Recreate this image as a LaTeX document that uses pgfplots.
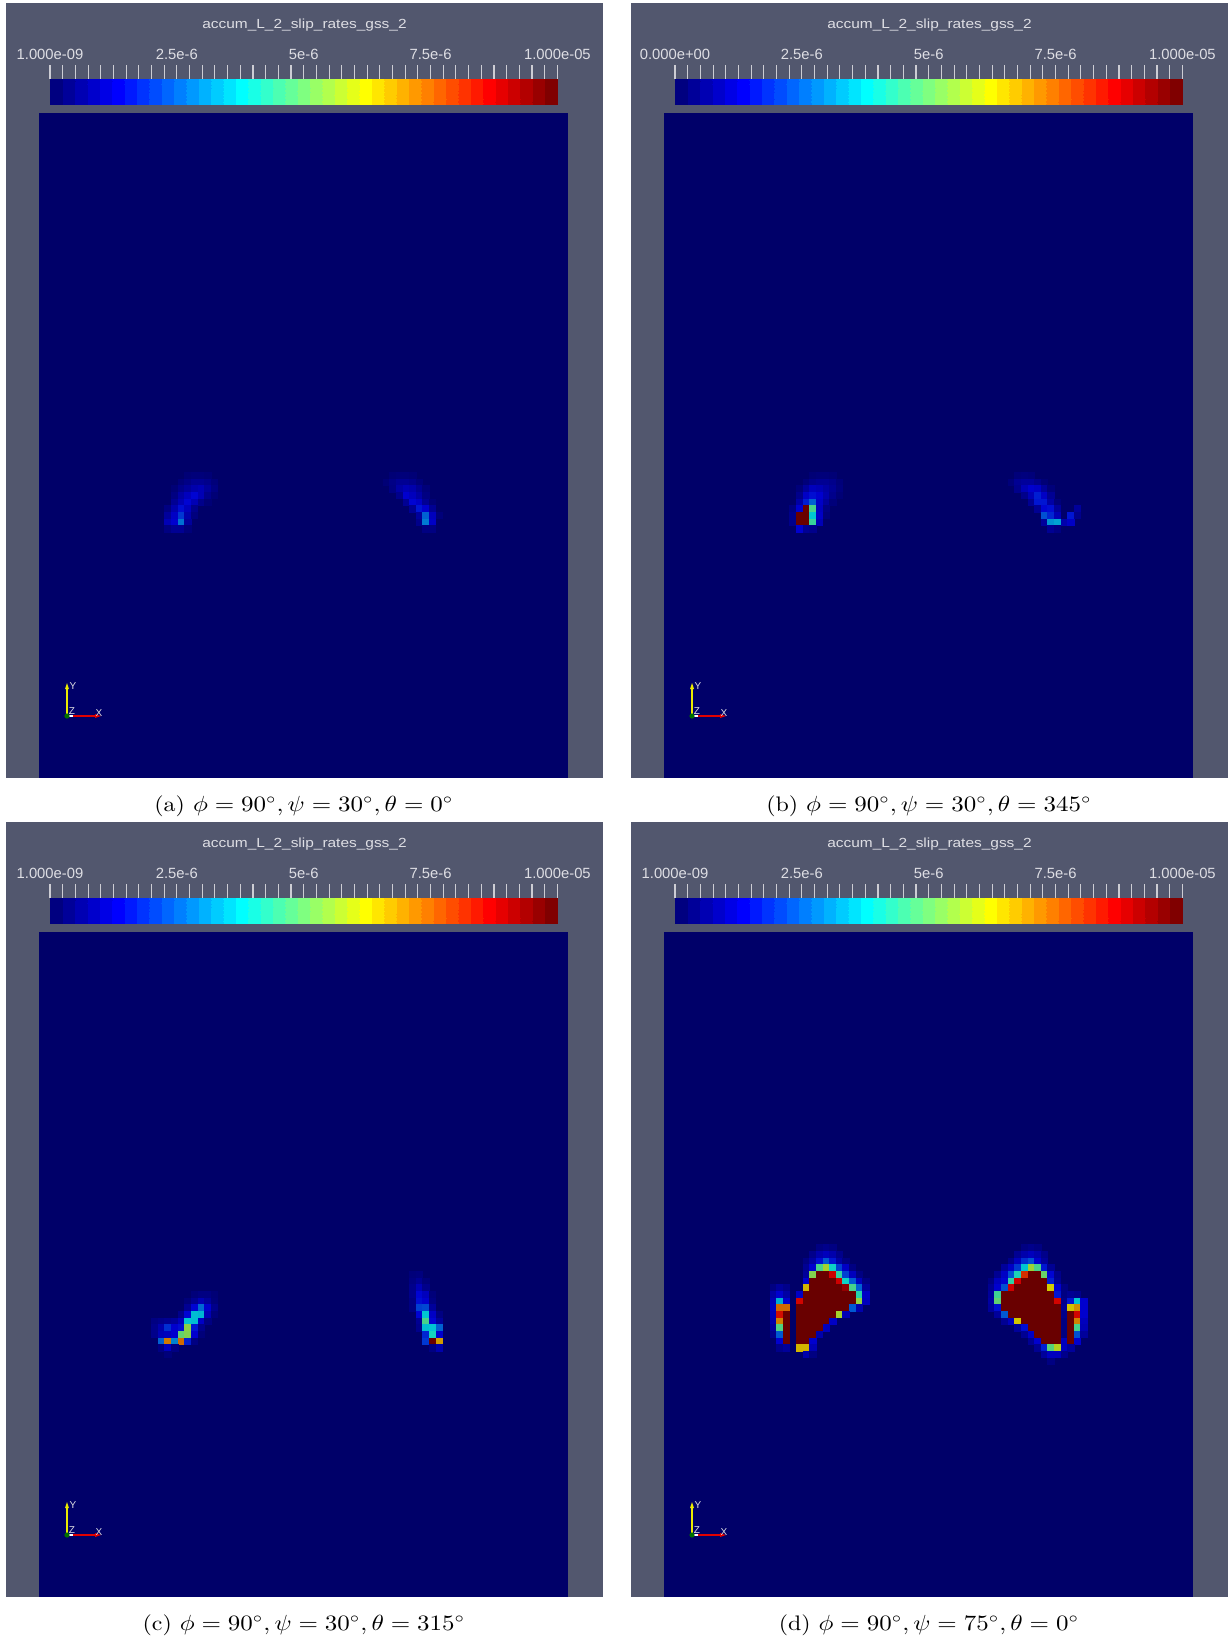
\documentclass[border=0pt]{standalone}
\usepackage{graphicx}
\usepackage{pgfplots}
\pgfplotsset{compat=1.18}
\usepackage{pgfplotstable}
\usepackage{fontspec}
\newfontfamily\pvfont{Liberation Sans}
\newfontfamily\pvtitlefont[FakeStretch=1.17]{Liberation Sans}

\definecolor{pvgray}{RGB}{82,87,110}
\definecolor{pvfield}{RGB}{0,0,105}
\definecolor{pvtext}{RGB}{222,222,228}
\definecolor{pvtick}{RGB}{205,205,212}
\definecolor{pvyellow}{RGB}{235,235,0}
\definecolor{pvred}{RGB}{225,0,0}
\definecolor{pvgreen}{RGB}{0,110,0}

\pgfplotsset{
  colormap={fieldjet}{rgb255(0cm)=(0,0,105) rgb255(1cm)=(0,0,210) rgb255(3cm)=(0,210,210) rgb255(5cm)=(210,210,0) rgb255(7cm)=(210,0,0) rgb255(8cm)=(105,0,0)},
  colormap={pvjet}{rgb255(0cm)=(0,0,128) rgb255(1cm)=(0,0,255) rgb255(3cm)=(0,255,255) rgb255(5cm)=(255,255,0) rgb255(7cm)=(255,0,0) rgb255(8cm)=(128,0,0)},
  colormap={barjet}{samples of colormap=(41 of pvjet)},
}

% accumulated slip rate per cell: column i, row j (from top), value in 1e-6
\pgfplotstableread[row sep=\\]{i j c\\
22 54 0.15\\ 23 54 0.2\\ 24 54 0.2\\ 25 54 0.15\\
21 55 0.2\\ 22 55 0.35\\ 23 55 0.5\\ 24 55 0.5\\ 25 55 0.4\\ 26 55 0.2\\
20 56 0.15\\ 21 56 0.4\\ 22 56 0.6\\ 23 56 0.8\\ 24 56 0.9\\ 25 56 0.6\\ 26 56 0.3\\
20 57 0.3\\ 21 57 0.7\\ 22 57 1.0\\ 23 57 1.3\\ 24 57 0.9\\ 25 57 0.4\\ 26 57 0.15\\
20 58 0.5\\ 21 58 0.9\\ 22 58 1.3\\ 23 58 0.9\\ 24 58 0.4\\ 25 58 0.15\\
19 59 0.3\\ 20 59 0.8\\ 21 59 1.4\\ 22 59 1.0\\ 23 59 0.4\\
19 60 0.6\\ 20 60 1.1\\ 21 60 1.9\\ 22 60 0.8\\ 23 60 0.25\\
19 61 0.9\\ 20 61 1.2\\ 21 61 2.6\\ 22 61 0.6\\
19 62 0.3\\ 20 62 0.5\\ 21 62 0.5\\ 22 62 0.2\\
53 54 0.15\\ 54 54 0.2\\ 55 54 0.2\\ 56 54 0.15\\
52 55 0.15\\ 53 55 0.35\\ 54 55 0.5\\ 55 55 0.5\\ 56 55 0.4\\ 57 55 0.2\\
53 56 0.3\\ 54 56 0.7\\ 55 56 0.9\\ 56 56 0.8\\ 57 56 0.5\\ 58 56 0.2\\
54 57 0.4\\ 55 57 1.2\\ 56 57 1.0\\ 57 57 0.7\\ 58 57 0.3\\
55 58 0.5\\ 56 58 1.3\\ 57 58 1.1\\ 58 58 0.5\\ 59 58 0.15\\
56 59 0.5\\ 57 59 1.5\\ 58 59 1.2\\ 59 59 0.5\\
57 60 0.6\\ 58 60 2.4\\ 59 60 1.0\\ 60 60 0.2\\
57 61 0.4\\ 58 61 2.7\\ 59 61 1.1\\
58 62 0.3\\ 59 62 0.3\\
}\tabA

\pgfplotstableread[row sep=\\]{i j c\\
22 54 0.15\\ 23 54 0.2\\ 24 54 0.2\\ 25 54 0.15\\
21 55 0.2\\ 22 55 0.4\\ 23 55 0.5\\ 24 55 0.5\\ 25 55 0.4\\ 26 55 0.2\\
20 56 0.2\\ 21 56 0.6\\ 22 56 1.0\\ 23 56 0.9\\ 24 56 0.7\\ 25 56 0.5\\ 26 56 0.25\\
20 57 0.4\\ 21 57 1.1\\ 22 57 1.4\\ 23 57 1.2\\ 24 57 0.8\\ 25 57 0.4\\ 26 57 0.15\\
20 58 0.7\\ 21 58 1.6\\ 22 58 2.4\\ 23 58 1.1\\ 24 58 0.6\\ 25 58 0.2\\
19 59 0.3\\ 20 59 1.2\\ 21 59 10\\ 22 59 4.6\\ 23 59 1.0\\ 24 59 0.3\\
19 60 0.4\\ 20 60 10\\ 21 60 10\\ 22 60 3.6\\ 23 60 1.1\\ 24 60 0.2\\
19 61 0.4\\ 20 61 10\\ 21 61 10\\ 22 61 4.4\\ 23 61 0.9\\
20 62 1.2\\ 21 62 0.5\\ 22 62 0.4\\
53 54 0.2\\ 54 54 0.25\\ 55 54 0.2\\
52 55 0.2\\ 53 55 0.5\\ 54 55 0.6\\ 55 55 0.6\\ 56 55 0.4\\ 57 55 0.15\\
53 56 0.4\\ 54 56 0.9\\ 55 56 1.2\\ 56 56 1.1\\ 57 56 0.6\\ 58 56 0.2\\
54 57 0.4\\ 55 57 0.9\\ 56 57 1.6\\ 57 57 1.1\\ 58 57 0.5\\
55 58 0.5\\ 56 58 1.5\\ 57 58 1.5\\ 58 58 0.7\\ 59 58 0.2\\
56 59 0.5\\ 57 59 1.3\\ 58 59 1.4\\ 59 59 0.6\\ 62 59 0.6\\
57 60 2.2\\ 58 60 1.7\\ 59 60 0.9\\ 61 60 1.5\\ 62 60 0.4\\
57 61 0.6\\ 58 61 3.0\\ 59 61 3.2\\ 60 61 0.8\\ 61 61 1.1\\
58 62 0.5\\ 59 62 0.3\\
}\tabB

\pgfplotstableread[row sep=\\]{i j c\\
23 54 0.2\\ 24 54 0.3\\ 25 54 0.3\\ 26 54 0.15\\
22 55 0.2\\ 23 55 0.5\\ 24 55 0.9\\ 25 55 0.6\\ 26 55 0.2\\
22 56 0.5\\ 23 56 1.3\\ 24 56 2.5\\ 25 56 1.2\\ 26 56 0.4\\
21 57 0.4\\ 22 57 1.3\\ 23 57 3.5\\ 24 57 3.4\\ 25 57 0.9\\ 26 57 0.2\\
17 58 0.3\\ 18 58 0.4\\ 19 58 0.5\\ 20 58 0.6\\ 21 58 1.0\\ 22 58 3.6\\ 23 58 3.5\\ 24 58 1.1\\ 25 58 0.3\\
17 59 0.4\\ 18 59 0.8\\ 19 59 1.8\\ 20 59 1.2\\ 21 59 1.4\\ 22 59 5.4\\ 23 59 1.5\\ 24 59 0.4\\
17 60 0.4\\ 18 60 0.9\\ 19 60 1.0\\ 20 60 1.2\\ 21 60 4.9\\ 22 60 5.3\\ 23 60 1.2\\ 24 60 0.2\\
18 61 2.4\\ 19 61 7.3\\ 20 61 2.8\\ 21 61 7.5\\ 22 61 1.6\\ 23 61 0.3\\
18 62 0.3\\ 19 62 1.0\\ 20 62 0.3\\
19 63 0.2\\
56 51 0.2\\ 57 51 0.25\\
56 52 0.3\\ 57 52 0.5\\ 58 52 0.2\\
56 53 0.4\\ 57 53 0.9\\ 58 53 0.4\\
56 54 0.4\\ 57 54 1.3\\ 58 54 1.0\\ 59 54 0.2\\
56 55 0.3\\ 57 55 1.4\\ 58 55 1.2\\ 59 55 0.3\\
56 56 0.3\\ 57 56 2.0\\ 58 56 2.1\\ 59 56 0.6\\
57 57 1.3\\ 58 57 3.6\\ 59 57 1.1\\ 60 57 0.3\\
57 58 0.5\\ 58 58 4.6\\ 59 58 1.3\\ 60 58 0.6\\
57 59 0.4\\ 58 59 3.5\\ 59 59 3.6\\ 60 59 2.4\\
58 60 1.7\\ 59 60 4.0\\ 60 60 1.2\\
58 61 1.9\\ 59 61 10\\ 60 61 6.9\\
59 62 0.3\\ 60 62 0.8\\
}\tabC

\pgfplotstableread[row sep=\\]{i j c\\
23 47 0.3\\ 24 47 0.4\\ 25 47 0.3\\
22 48 0.4\\ 23 48 0.8\\ 24 48 1.0\\ 25 48 0.8\\ 26 48 0.4\\
21 49 0.3\\ 22 49 0.7\\ 23 49 1.4\\ 24 49 2.3\\ 25 49 1.5\\ 26 49 0.7\\ 27 49 0.3\\
21 50 0.5\\ 22 50 1.2\\ 23 50 4.6\\ 24 50 5.7\\ 25 50 3.9\\ 26 50 2.0\\ 27 50 1.1\\ 28 50 0.3\\
21 51 0.6\\ 22 51 5.3\\ 23 51 10\\ 24 51 10\\ 25 51 8.8\\ 26 51 4.3\\ 27 51 2.0\\ 28 51 1.0\\ 29 51 0.3\\
21 52 1.2\\ 22 52 10\\ 23 52 10\\ 24 52 10\\ 25 52 10\\ 26 52 8.8\\ 27 52 3.9\\ 28 52 2.3\\ 29 52 1.0\\ 30 52 0.3\\
16 53 0.3\\ 17 53 0.6\\ 18 53 0.4\\ 21 53 6.6\\ 22 53 10\\ 23 53 10\\ 24 53 10\\ 25 53 10\\ 26 53 10\\ 27 53 9.5\\ 28 53 4.6\\ 29 53 2.4\\ 30 53 0.6\\
16 54 0.7\\ 17 54 1.2\\ 18 54 0.7\\ 20 54 1.1\\ 21 54 10\\ 22 54 10\\ 23 54 10\\ 24 54 10\\ 25 54 10\\ 26 54 10\\ 27 54 10\\ 28 54 10\\ 29 54 4.2\\ 30 54 1.1\\
16 55 0.9\\ 17 55 3.3\\ 18 55 1.2\\ 20 55 8.7\\ 21 55 10\\ 22 55 10\\ 23 55 10\\ 24 55 10\\ 25 55 10\\ 26 55 10\\ 27 55 10\\ 28 55 10\\ 29 55 5.5\\ 30 55 1.0\\
16 56 1.0\\ 17 56 7.5\\ 18 56 7.5\\ 20 56 10\\ 21 56 10\\ 22 56 10\\ 23 56 10\\ 24 56 10\\ 25 56 10\\ 26 56 10\\ 27 56 10\\ 28 56 2.3\\ 29 56 0.8\\
16 57 0.9\\ 17 57 8.6\\ 18 57 10\\ 20 57 10\\ 21 57 10\\ 22 57 10\\ 23 57 10\\ 24 57 10\\ 25 57 10\\ 26 57 5.7\\ 27 57 0.9\\
16 58 0.8\\ 17 58 7.2\\ 18 58 10\\ 20 58 10\\ 21 58 10\\ 22 58 10\\ 23 58 10\\ 24 58 10\\ 25 58 1.1\\
16 59 0.6\\ 17 59 4.7\\ 18 59 10\\ 20 59 10\\ 21 59 10\\ 22 59 10\\ 23 59 10\\ 24 59 1.0\\
16 60 0.4\\ 17 60 2.3\\ 18 60 10\\ 20 60 10\\ 21 60 10\\ 22 60 10\\ 23 60 0.8\\
17 61 1.2\\ 18 61 10\\ 20 61 10\\ 21 61 10\\ 22 61 1.2\\
17 62 0.4\\ 18 62 0.6\\ 20 62 6.6\\ 21 62 6.6\\ 22 62 0.9\\
21 63 0.8\\ 22 63 0.3\\
54 47 0.3\\ 55 47 0.4\\ 56 47 0.3\\
53 48 0.5\\ 54 48 0.8\\ 55 48 1.0\\ 56 48 0.8\\ 57 48 0.4\\
52 49 0.4\\ 53 49 1.0\\ 54 49 1.8\\ 55 49 2.2\\ 56 49 1.2\\ 57 49 0.6\\
51 50 0.6\\ 52 50 1.1\\ 53 50 1.9\\ 54 50 3.6\\ 55 50 5.6\\ 56 50 4.6\\ 57 50 1.5\\ 58 50 0.5\\
50 51 0.5\\ 51 51 1.1\\ 52 51 2.2\\ 53 51 4.1\\ 54 51 8.2\\ 55 51 10\\ 56 51 10\\ 57 51 5.0\\ 58 51 1.3\\ 59 51 0.4\\
49 52 0.3\\ 50 52 1.0\\ 51 52 1.3\\ 52 52 4.3\\ 53 52 8.8\\ 54 52 10\\ 55 52 10\\ 56 52 10\\ 57 52 10\\ 58 52 1.6\\ 59 52 0.5\\
49 53 0.5\\ 50 53 1.2\\ 51 53 2.2\\ 52 53 8.8\\ 53 53 10\\ 54 53 10\\ 55 53 10\\ 56 53 10\\ 57 53 10\\ 58 53 6.3\\ 59 53 1.2\\ 60 53 0.3\\
49 54 0.6\\ 50 54 4.5\\ 51 54 10\\ 52 54 10\\ 53 54 10\\ 54 54 10\\ 55 54 10\\ 56 54 10\\ 57 54 10\\ 58 54 10\\ 59 54 1.5\\ 60 54 0.3\\ 61 54 0.5\\ 62 54 0.4\\
49 55 0.7\\ 50 55 4.9\\ 51 55 10\\ 52 55 10\\ 53 55 10\\ 54 55 10\\ 55 55 10\\ 56 55 10\\ 57 55 10\\ 58 55 10\\ 59 55 8.7\\ 60 55 0.4\\ 61 55 1.5\\ 62 55 3.6\\ 63 55 1.2\\
49 56 0.6\\ 50 56 1.4\\ 51 56 10\\ 52 56 10\\ 53 56 10\\ 54 56 10\\ 55 56 10\\ 56 56 10\\ 57 56 10\\ 58 56 10\\ 59 56 10\\ 60 56 0.5\\ 61 56 6.4\\ 62 56 7.0\\ 63 56 1.2\\
50 57 0.6\\ 51 57 2.3\\ 52 57 10\\ 53 57 10\\ 54 57 10\\ 55 57 10\\ 56 57 10\\ 57 57 10\\ 58 57 10\\ 59 57 10\\ 60 57 0.4\\ 61 57 10\\ 62 57 8.7\\ 63 57 1.2\\
51 58 0.5\\ 52 58 1.0\\ 53 58 6.4\\ 54 58 10\\ 55 58 10\\ 56 58 10\\ 57 58 10\\ 58 58 10\\ 59 58 10\\ 60 58 0.3\\ 61 58 10\\ 62 58 7.2\\ 63 58 1.0\\
53 59 0.6\\ 54 59 1.4\\ 55 59 10\\ 56 59 10\\ 57 59 10\\ 58 59 10\\ 59 59 10\\ 60 59 0.3\\ 61 59 10\\ 62 59 4.6\\ 63 59 0.9\\
54 60 0.5\\ 55 60 1.1\\ 56 60 10\\ 57 60 10\\ 58 60 10\\ 59 60 10\\ 60 60 0.3\\ 61 60 10\\ 62 60 2.2\\ 63 60 0.6\\
55 61 0.5\\ 56 61 1.2\\ 57 61 10\\ 58 61 10\\ 59 61 10\\ 60 61 1.0\\ 61 61 10\\ 62 61 1.2\\
56 62 0.5\\ 57 62 1.6\\ 58 62 4.8\\ 59 62 5.9\\ 60 62 1.0\\ 61 62 0.6\\
57 63 0.6\\ 58 63 1.0\\ 59 63 1.0\\ 60 63 0.4\\
58 64 0.3\\
}\tabD

% one render window: #1,#2 offset (px), #3 lower range label, #4 caption, #5 cell table
\newcommand{\pvpanel}[5]{%
  \begin{scope}[x=0.5pt,y=-0.5pt]
    \fill[pvgray] (#1+6,#2+3) rectangle (#1+603,#2+778);
    \fill[pvfield] (#1+39,#2+113) rectangle (#1+568,#2+778);
    \node[font=\pvtitlefont\fontsize{6.6}{8}\selectfont, text=pvtext, inner sep=0pt]
      at (#1+304.5,#2+25.5) {accum\_L\_2\_slip\_rates\_gss\_2};
  \end{scope}
  % scalar bar
  \begin{axis}[
    at={({0.5pt*(#1+50)},{-0.5pt*(#2+104.3)})}, anchor=south west,
    scale only axis, width=253.7pt, height=19.65pt,
    xmin=0, xmax=10, ymin=0, ymax=39.3,
    axis line style={draw=none},
    xtick pos=upper, xticklabel pos=upper, ytick=\empty,
    xtick={2.5,5,7.5}, xticklabels={2.5e-6,5e-6,7.5e-6},
    minor xtick={0,0.25,...,10},
    extra x ticks={0,10}, extra x tick labels={#3,1.000e-05},
    extra x tick style={major tick length=7pt},
    tick align=inside, major tick length=11.5pt, minor tick length=7pt,
    every tick/.append style={pvtick, line width=0.55pt},
    xticklabel style={font=\pvfont\fontsize{7.4}{9}\selectfont, text=pvtext,
      anchor=base, inner sep=0pt, yshift=2.85pt},
    colormap name=barjet, colormap access=piecewise constant,
    point meta min=0, point meta max=10, clip=false]
    \addplot[surf, shader=interp, mesh/cols=2, point meta=x]
      coordinates {(0,0) (10,0) (0,25.3) (10,25.3)};
  \end{axis}
  % slip field cells
  \begin{axis}[
    at={({0.5pt*(#1+39)},{-0.5pt*(#2+113)})}, anchor=north west,
    scale only axis, width=264.5pt, height=332.5pt,
    xmin=-0.5, xmax=79.5, ymin=-0.5, ymax=99.5, y dir=reverse,
    hide axis, colormap name=fieldjet, point meta min=0, point meta max=10]
    \addplot[scatter, only marks, mark=square*, mark size=1.6pt, line width=0.25pt,
      scatter/use mapped color={draw=mapped color, fill=mapped color},
      point meta=explicit] table[x=i, y=j, meta=c] {#5};
  \end{axis}
  \begin{scope}[x=0.5pt,y=-0.5pt]
    % orientation triad
    \draw[pvyellow, line width=0.9pt] (#1+67,#2+716) -- (#1+67,#2+688);
    \fill[pvyellow] (#1+65,#2+689) -- (#1+69,#2+689) -- (#1+67,#2+683) -- cycle;
    \draw[pvred, line width=0.9pt] (#1+67,#2+716) -- (#1+96,#2+716);
    \fill[pvred] (#1+95,#2+714) -- (#1+95,#2+718) -- (#1+101,#2+716) -- cycle;
    \draw[white, line width=0.9pt] (#1+67,#2+716) -- (#1+73,#2+716);
    \fill[pvgreen] (#1+67,#2+716) circle (1.3pt);
    \node[font=\pvfont\fontsize{5}{6}\selectfont, text=pvtext, inner sep=0pt] at (#1+73,#2+686.5) {Y};
    \node[font=\pvfont\fontsize{5}{6}\selectfont, text=pvtext, inner sep=0pt] at (#1+72,#2+711) {Z};
    \node[font=\pvfont\fontsize{5}{6}\selectfont, text=pvtext, inner sep=0pt] at (#1+99,#2+713) {X};
    % caption
    \node[anchor=base, inner sep=0pt, font=\fontsize{10.5}{12.5}\selectfont]
      at (#1+303.9,#2+811.5) {\scalebox{1.14}[1]{#4}};
  \end{scope}
}

\begin{document}
\begin{tikzpicture}
\path[use as bounding box] (0pt,0pt) rectangle (614pt,-820pt);
\pvpanel{0}{0}{1.000e-09}{(a) $\phi = 90^\circ, \psi = 30^\circ, \theta = 0^\circ$}{\tabA}
\pvpanel{625}{0}{0.000e+00}{(b) $\phi = 90^\circ, \psi = 30^\circ, \theta = 345^\circ$}{\tabB}
\pvpanel{0}{819}{1.000e-09}{(c) $\phi = 90^\circ, \psi = 30^\circ, \theta = 315^\circ$}{\tabC}
\pvpanel{625}{819}{1.000e-09}{(d) $\phi = 90^\circ, \psi = 75^\circ, \theta = 0^\circ$}{\tabD}
\end{tikzpicture}
\end{document}
